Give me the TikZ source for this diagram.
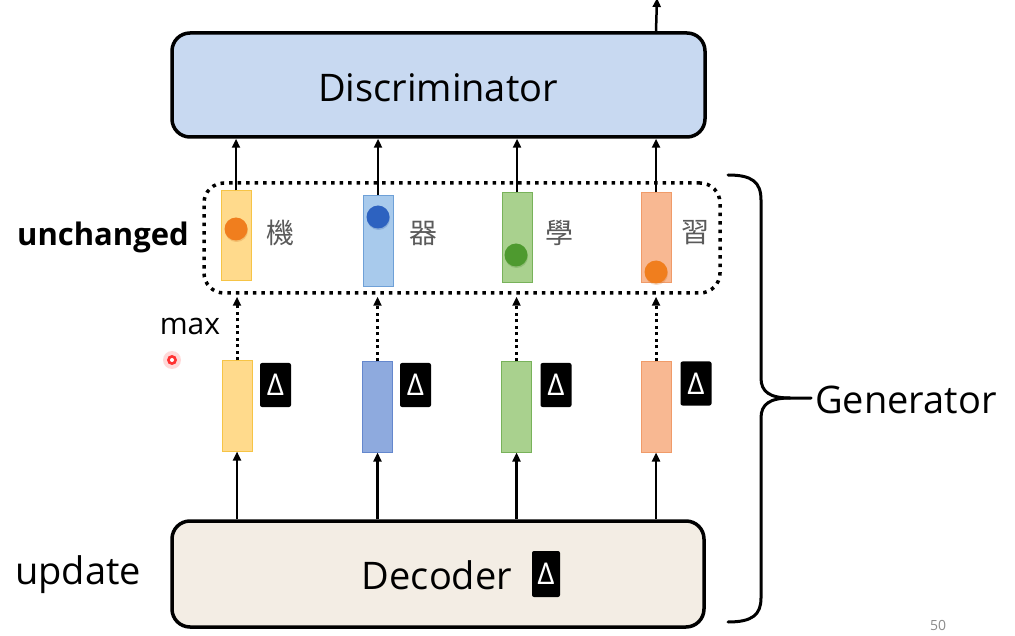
\documentclass[tikz,border=0pt]{standalone}
\usepackage{fontspec}
\setmainfont{Open Sans}
\newfontfamily\cjkfont{Noto Sans CJK TC}
\usetikzlibrary{arrows.meta,calc}
\definecolor{discfill}{RGB}{200,217,241}
\definecolor{decfill}{RGB}{243,237,228}
\definecolor{yfill}{RGB}{255,218,140}
\definecolor{ydraw}{RGB}{246,196,70}
\definecolor{bufill}{RGB}{168,202,236}
\definecolor{budraw}{RGB}{110,160,215}
\definecolor{blfill}{RGB}{142,170,222}
\definecolor{bldraw}{RGB}{100,135,205}
\definecolor{gfill}{RGB}{169,209,142}
\definecolor{gdraw}{RGB}{120,178,90}
\definecolor{ofill}{RGB}{248,184,146}
\definecolor{odraw}{RGB}{240,155,105}
\definecolor{dotor}{RGB}{240,126,30}
\definecolor{dotbl}{RGB}{45,98,192}
\definecolor{dotgr}{RGB}{78,154,47}
\definecolor{cjkgray}{RGB}{90,90,90}
\begin{document}
\begin{tikzpicture}[x=1pt,y=-1pt,
  bigbox/.style={draw=black,line width=3.5pt,rounded corners=18pt,inner sep=0pt},
  bar/.style={draw,line width=1pt,minimum width=30pt,minimum height=90pt,inner sep=0pt},
  deltabox/.style={fill=black,rounded corners=2pt,minimum width=31pt,minimum height=44pt,inner sep=0pt,text=white,font=\fontsize{30}{30}\selectfont},
  ball/.style={circle,minimum size=23pt,inner sep=0pt},
  cjk/.style={text=cjkgray,font=\cjkfont\fontsize{28}{28}\selectfont,inner sep=0pt},
  lbl/.style={font=\fontsize{38}{38}\selectfont,inner sep=0pt},
  solidarrow/.style={line width=2.5pt,-{Triangle[length=9pt,width=8pt]}},
  dotarrow/.style={line width=3pt,dash pattern=on 3pt off 3.5pt,-{Triangle[length=9pt,width=8pt]}}
]
\useasboundingbox (0,0) rectangle (1015,636);
\fill[white] (0,0) rectangle (1015,636);

% big boxes
\node[bigbox,fill=discfill,minimum width=533pt,minimum height=104pt] (disc) at (438.5,85) {};
\node[lbl] (disctext) at (438,88) {Discriminator};
\node[bigbox,fill=decfill,minimum width=532pt,minimum height=106pt] (dec) at (438,574) {};
\node[lbl] (dectext) at (437,575) {Decoder};
\node[deltabox,minimum width=28pt,minimum height=46pt] (ddec) at (546,574) {Δ};

% dotted group
\node[draw=black,line width=3.5pt,dash pattern=on 3.5pt off 5pt,rounded corners=20pt,minimum width=516pt,minimum height=110pt,inner sep=0pt] (grp) at (462,238) {};

% upper bars
\node[bar,fill=yfill,draw=ydraw] (u1) at (236,236) {};
\node[bar,fill=bufill,draw=budraw,minimum height=91pt] (u2) at (378,241.5) {};
\node[bar,fill=gfill,draw=gdraw] (u3) at (517,238) {};
\node[bar,fill=ofill,draw=odraw] (u4) at (656,238) {};

% balls
\node[ball,fill=dotor!85!black,opacity=0.25] (s1) at (236.5,230.5) {};
\node[ball,fill=dotor] (b1) at (236,229) {};
\node[ball,fill=dotbl!85!black,opacity=0.25] (s2) at (378.5,218.5) {};
\node[ball,fill=dotbl] (b2) at (378,217) {};
\node[ball,fill=dotgr!85!black,opacity=0.25] (s3) at (516.5,256.5) {};
\node[ball,fill=dotgr] (b3) at (516,255) {};
\node[ball,fill=dotor!85!black,opacity=0.25] (s4) at (656.5,273.5) {};
\node[ball,fill=dotor] (b4) at (656,272) {};

% characters
\node[cjk] (c1) at (280,233) {機};
\node[cjk] (c2) at (423,233) {器};
\node[cjk] (c3) at (559,233) {學};
\node[cjk] (c4) at (695,233) {習};

% lower bars
\node[bar,fill=yfill,draw=ydraw] (l1) at (237,406) {};
\node[bar,fill=blfill,draw=bldraw] (l2) at (377.5,407) {};
\node[bar,fill=gfill,draw=gdraw] (l3) at (516.5,407) {};
\node[bar,fill=ofill,draw=odraw] (l4) at (656,407) {};

% delta boxes
\node[deltabox] (d1) at (275.5,385) {Δ};
\node[deltabox] (d2) at (415.5,385) {Δ};
\node[deltabox] (d3) at (556,385) {Δ};
\node[deltabox] (d4) at (696,383.5) {Δ};

% arrows upper bars -> discriminator
\foreach \u in {u1,u2,u3,u4}{
  \draw[solidarrow] (\u.north) -- (disc.south -| \u.north);
}
% top output arrow
\coordinate (topout) at (657,-2);
\draw[solidarrow] (disc.north -| u4.north) -- (topout);

% dotted arrows lower bars -> group
\foreach \l in {l1,l2,l3,l4}{
  \draw[dotarrow] (\l.north) -- ($(grp.south -| \l.north)+(0,2)$);
}
% decoder -> lower bars
\foreach \l in {l1,l2,l3,l4}{
  \draw[solidarrow] (dec.north -| \l.south) -- (\l.south);
}

% labels
\node[font=\bfseries\fontsize{31}{31}\selectfont,inner sep=0pt] (unch) at (103,237) {unchanged};
\node[font=\fontsize{30}{30}\selectfont,inner sep=0pt] (maxl) at (190,326) {max};
\node[lbl] (upd) at (78,575) {update};
\node[lbl,anchor=west] (gen) at (815,400) {Generator};
\node[font=\fontsize{14}{14}\selectfont,text=black!45,inner sep=0pt] (pg) at (938,625) {50};

% brace
\coordinate (btip) at (811,398);
\draw[line width=3pt,line cap=round,line join=round]
  (728,175) .. controls (752,175) and (761,182) .. (761,200)
  -- (761,378) .. controls (761,392) and (770,398) .. (790,398)
  -- (btip);
\draw[line width=3pt,line cap=round,line join=round]
  (790,398) .. controls (770,398) and (761,404) .. (761,418)
  -- (761,598) .. controls (761,615) and (752,622) .. (728,622);

% laser pointer dot
\fill[red!15] (172,360) circle (9pt);
\fill[red!80] (172,360) circle (5pt);
\fill[white] (172,360) circle (2pt);
\end{tikzpicture}
\end{document}
